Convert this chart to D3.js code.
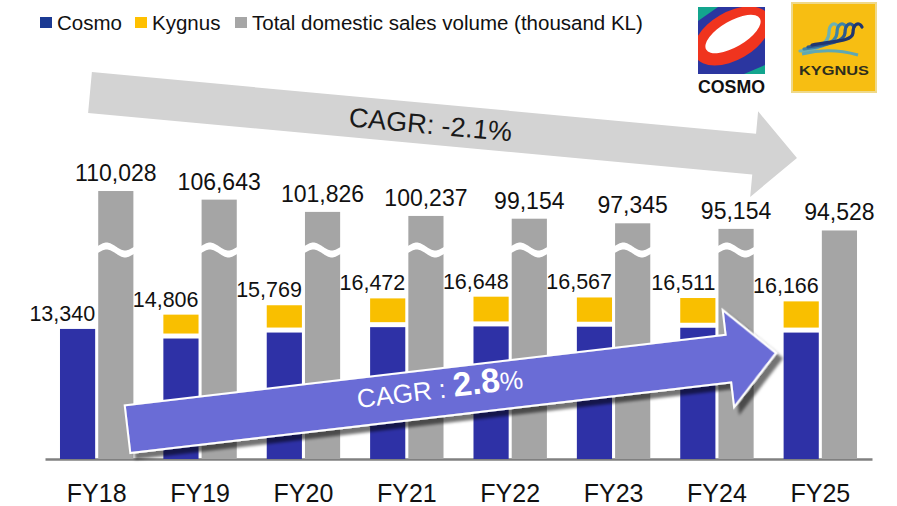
<!DOCTYPE html>
<html>
<head>
<meta charset="utf-8">
<script src="https://cdn.jsdelivr.net/npm/d3@7"></script>
<style>
  body { margin: 0; background: #fff; }
  svg { display: block; font-family: "Liberation Sans", Arial, sans-serif; }
</style>
</head>
<body>
<div id="chart"></div>
<script>
// Data
const years = ["FY18", "FY19", "FY20", "FY21", "FY22", "FY23", "FY24", "FY25"];
const cosmo = [13340, 12356, 12969, 13522, 13598, 13567, 13461, 12966];
const kygnus = [0, 2450, 2800, 2950, 3050, 3000, 3050, 3200];
const totalDomestic = [110028, 106643, 101826, 100237, 99154, 97345, 95154, 94528];
const brokenBar = [true, true, true, true, true, true, true, false];
const legendNames = ["Cosmo", "Kygnus", "Total domestic sales volume (thousand KL)"];
const cagrTotal = "CAGR: -2.1%";
const cagrGroup = ["CAGR : ", "2.8", "%"];

const width = 897, height = 506;
const baseY = 459;
const colors = {cosmo: "#2E31A6", kygnus: "#F9BF00", total: "#A5A5A5"};

const svg = d3.select("#chart")
    .append("svg")
    .attr("width", width)
    .attr("height", height);

const defs = svg.append("defs");
defs.append("filter")
    .attr("id", "shadow")
    .attr("x", "-10%").attr("y", "-30%").attr("width", "120%").attr("height", "160%")
    .append("feDropShadow")
    .attr("dx", 5).attr("dy", 6).attr("stdDeviation", 1.5)
    .attr("flood-color", "#000").attr("flood-opacity", 0.55);

// Scales
const x0 = d3.scaleBand()
    .domain(years)
    .range([45, 872])
    .paddingInner(0.29)
    .paddingOuter(0.145);
const x1 = d3.scaleBand()
    .domain(["stack", "total"])
    .range([0, x0.bandwidth()])
    .paddingInner(0.08);
// group bars (Cosmo + Kygnus)
const y = d3.scaleLinear().domain([0, 20000]).range([baseY, baseY - 195]);
// total bars are drawn on a broken axis
const yTotal = d3.scaleLinear().domain([90000, 112000]).range([242, 186]);

// Grey CAGR arrow (behind)
const gArrow = svg.append("g")
    .attr("transform", "translate(90,92.5) rotate(5.3)");
gArrow.append("path")
    .attr("d", "M0,-20.5 L667,-20.5 L667,-43 L710,0 L667,43 L667,20.5 L0,20.5 Z")
    .attr("fill", "#D3D3D3");
gArrow.append("text")
    .attr("x", 342).attr("y", 0).attr("dy", "0.36em")
    .attr("text-anchor", "middle")
    .attr("font-size", 27)
    .attr("fill", "#1a1a1a")
    .text(cagrTotal);

const data = years.map((yr, i) => ({
    year: yr, cosmo: cosmo[i], kygnus: kygnus[i],
    total: totalDomestic[i], broken: brokenBar[i]
}));

// X axis
const xAxis = svg.append("g")
    .attr("transform", "translate(0," + baseY + ")")
    .call(d3.axisBottom(x0).tickSize(0).tickPadding(25));
xAxis.select(".domain").attr("stroke", "#808080").attr("stroke-width", 2.5);
xAxis.selectAll("text")
    .attr("font-family", "Liberation Sans, Arial, sans-serif")
    .attr("font-size", 25)
    .attr("fill", "#111");

const groups = svg.selectAll(".grp")
    .data(data)
    .enter()
    .append("g")
    .attr("class", "grp")
    .attr("transform", d => "translate(" + x0(d.year) + ",0)");

const bw = x1.bandwidth();

// Cosmo bars
groups.append("rect")
    .attr("x", x1("stack"))
    .attr("y", d => y(d.cosmo))
    .attr("width", bw)
    .attr("height", d => baseY - y(d.cosmo))
    .attr("fill", colors.cosmo);

// Kygnus bars (separated by a small white gap)
groups.filter(d => d.kygnus > 0)
    .append("rect")
    .attr("x", x1("stack"))
    .attr("y", d => y(d.cosmo + d.kygnus))
    .attr("width", bw)
    .attr("height", d => y(d.cosmo) - y(d.cosmo + d.kygnus) - 5)
    .attr("fill", colors.kygnus);

// Total bars
groups.append("rect")
    .attr("x", x1("total"))
    .attr("y", d => yTotal(d.total))
    .attr("width", bw)
    .attr("height", d => baseY - yTotal(d.total))
    .attr("fill", colors.total);

// Wavy break marks
const breakY = 250;
const wave = d3.area()
    .x(t => x1("total") - 1 + t * (bw + 2))
    .y0(t => breakY - 3.5 - 4 * Math.sin(2 * Math.PI * t))
    .y1(t => breakY + 3.5 - 4 * Math.sin(2 * Math.PI * t))
    .curve(d3.curveBasis);
groups.filter(d => d.broken)
    .append("path")
    .attr("d", wave(d3.range(0, 1.0001, 0.05)))
    .attr("fill", "#fff");

// Labels
groups.append("text")
    .attr("x", x1("stack") + bw)
    .attr("y", d => y(d.cosmo + d.kygnus) - 8)
    .attr("text-anchor", "end")
    .attr("font-size", 21.5)
    .attr("fill", "#111")
    .text(d => d3.format(",")(d.cosmo + d.kygnus));

groups.append("text")
    .attr("x", x1("total") + bw / 2)
    .attr("y", d => yTotal(d.total) - 10)
    .attr("text-anchor", "middle")
    .attr("font-size", 23)
    .attr("fill", "#111")
    .text(d => d3.format(",")(d.total));

// Blue CAGR arrow
const bArrow = svg.append("g")
    .attr("transform", "translate(127.5,429.2) rotate(-6.7)");
bArrow.append("path")
    .attr("d", "M0,-24 L605,-24 L605,-49 L653,0 L605,49 L605,24 L0,24 Z")
    .attr("fill", "#6A6CD6")
    .attr("stroke", "#fff")
    .attr("stroke-width", 2)
    .attr("filter", "url(#shadow)");
const bt = bArrow.append("text")
    .attr("x", 315).attr("y", 0).attr("dy", "0.36em")
    .attr("text-anchor", "middle")
    .attr("fill", "#fff");
bt.append("tspan").attr("font-size", 26).text(cagrGroup[0]);
bt.append("tspan").attr("font-size", 34).attr("font-weight", "bold").text(cagrGroup[1]);
bt.append("tspan").attr("font-size", 26).text(cagrGroup[2]);

// Legend
const legendX = [40, 135, 235];
const legendColors = ["#1B3A93", "#FFC000", "#A6A6A6"];
legendNames.forEach((name, i) => {
    svg.append("rect")
        .attr("x", legendX[i]).attr("y", 17)
        .attr("width", 12).attr("height", 11)
        .attr("fill", legendColors[i]);
    svg.append("text")
        .attr("x", legendX[i] + 17).attr("y", 30)
        .attr("font-size", 20.5)
        .attr("fill", "#111")
        .text(name);
});

// Cosmo logo
const cl = svg.append("g").attr("transform", "translate(698,7)");
defs.append("clipPath").attr("id", "cosmoClip")
    .append("rect").attr("width", 67).attr("height", 67);
const clg = cl.append("g").attr("clip-path", "url(#cosmoClip)");
clg.append("rect").attr("width", 67).attr("height", 67).attr("fill", "#2B36A0");
clg.append("path").attr("d", "M0,0 L20,0 L0,14 Z").attr("fill", "#13A58E");
clg.append("path").attr("d", "M67,58 L67,67 L46,67 Z").attr("fill", "#13A58E");
clg.append("ellipse").attr("cx", 34).attr("cy", 29).attr("rx", 42).attr("ry", 24)
    .attr("transform", "rotate(-30,34,29)").attr("fill", "#F0341E");
clg.append("ellipse").attr("cx", 35).attr("cy", 27).attr("rx", 31).attr("ry", 13)
    .attr("transform", "rotate(-30,35,27)").attr("fill", "#fff");
cl.append("text")
    .attr("x", 0).attr("y", 86)
    .attr("font-size", 19).attr("font-weight", "bold")
    .attr("textLength", 67).attr("lengthAdjust", "spacingAndGlyphs")
    .attr("fill", "#111")
    .text("COSMO");

// Kygnus logo
const kl = svg.append("g").attr("transform", "translate(792,3)");
kl.append("rect").attr("width", 84).attr("height", 89)
    .attr("fill", "#F7BE12").attr("stroke", "#EFD98A").attr("stroke-width", 2);
const featherColors = ["#6DB2B3", "#3E84A8", "#2C5A8E", "#1F3670"];
featherColors.forEach((c, i) => {
    const hx = 38 + i * 8;
    kl.append("path")
        .attr("d", "M" + (8 + i * 4) + "," + (48 - i * 2)
            + " C" + (24 + i * 5) + "," + (47 - i * 3) + " " + (hx - 2) + "," + (42 - i) + " " + (hx - 1) + ",30"
            + " C" + (hx - 1) + ",21 " + (hx + 5) + ",18 " + (hx + 8) + ",24")
        .attr("fill", "none").attr("stroke", c)
        .attr("stroke-width", 3.2).attr("stroke-linecap", "round");
});
kl.append("path").attr("d", "M10,51 Q38,44 66,52").attr("fill", "none")
    .attr("stroke", "#5FA8B4").attr("stroke-width", 3);
kl.append("text")
    .attr("x", 42).attr("y", 72)
    .attr("text-anchor", "middle")
    .attr("font-size", 13).attr("font-weight", "bold")
    .attr("textLength", 70).attr("lengthAdjust", "spacingAndGlyphs")
    .attr("fill", "#2D2D1E")
    .text("KYGNUS");
</script>
</body>
</html>
